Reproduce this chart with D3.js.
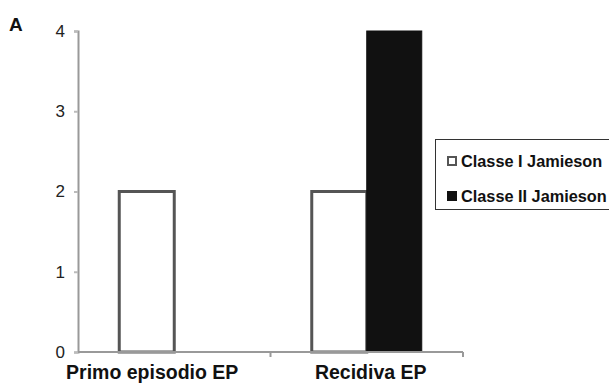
<!DOCTYPE html>
<html><head><meta charset="utf-8">
<script src="https://d3js.org/d3.v7.min.js"></script>
<style>body{margin:0;background:#fff;} svg{display:block;font-family:"Liberation Sans",Arial,sans-serif;}</style>
</head><body>
<svg id="c" width="609" height="383"></svg>
<script>
const categories = ["Primo episodio EP", "Recidiva EP"];
const seriesNames = ["Classe I Jamieson", "Classe II Jamieson"];
const classeI = [2, 2];
const classeII = [0, 4];
const yTicks = [0, 1, 2, 3, 4];

const svg = d3.select("#c");
const m = {l: 78, r: 463, t: 31, b: 352};
const x = d3.scaleBand().domain(categories).range([m.l, m.r]);
const xs = d3.scaleBand().domain(seriesNames).range([0, x.bandwidth()]).paddingInner(0).paddingOuter(0.75);
const y = d3.scaleLinear().domain([0, 4]).range([m.b, m.t]);
const fills = ["#ffffff", "#111111"];
const series = [classeI, classeII];

// bars
series.forEach((vals, si) => {
  svg.append("g").selectAll("rect").data(categories).join("rect")
    .attr("x", c => x(c) + xs(seriesNames[si]))
    .attr("y", (c, i) => y(vals[i]))
    .attr("width", xs.bandwidth())
    .attr("height", (c, i) => y(0) - y(vals[i]))
    .attr("fill", fills[si])
    .attr("stroke", si === 0 ? "#555" : "#111")
    .attr("stroke-width", si === 0 ? 3 : 1)
    .attr("display", (c, i) => vals[i] > 0 ? null : "none");
});

// y axis
const ya = svg.append("g").attr("transform", `translate(${m.l},0)`)
  .call(d3.axisLeft(y).tickValues(yTicks).tickFormat(d3.format("d")).tickSize(4).tickPadding(9));
ya.select(".domain").attr("stroke", "#999").attr("stroke-width", 2);
ya.selectAll(".tick line").attr("stroke", "#bbb").attr("stroke-width", 2);
ya.selectAll("text").attr("font-size", 17).attr("fill", "#222").attr("font-family", "Liberation Sans, Arial, sans-serif");

// x axis
const xa = svg.append("g").attr("transform", `translate(0,${m.b})`);
xa.append("line").attr("x1", m.l).attr("x2", m.r).attr("stroke", "#999").attr("stroke-width", 2);
xa.selectAll("line.t").data(categories).join("line").attr("class", "t")
  .attr("x1", c => x(c) + x.bandwidth()).attr("x2", c => x(c) + x.bandwidth())
  .attr("y1", 0).attr("y2", 5).attr("stroke", "#999").attr("stroke-width", 2);
const labelShift = [-22, 4];
xa.selectAll("text").data(categories).join("text")
  .attr("x", (c, i) => x(c) + x.bandwidth() / 2 + labelShift[i])
  .attr("y", 27).attr("text-anchor", "middle")
  .attr("font-size", 19.5).attr("font-weight", "bold").attr("fill", "#111")
  .text(c => c);

// panel letter
svg.append("text").attr("x", 9).attr("y", 31).attr("font-size", 19).attr("font-weight", "bold").attr("fill", "#111").text("A");

// legend
const lg = svg.append("g");
lg.append("rect").attr("x", 435.5).attr("y", 139.5).attr("width", 200).attr("height", 70)
  .attr("fill", "#fff").attr("stroke", "#333").attr("stroke-width", 1);
seriesNames.forEach((s, i) => {
  const yy = 161 + i * 35;
  lg.append("rect").attr("x", 448).attr("y", yy - 4).attr("width", 8).attr("height", 8)
    .attr("fill", fills[i]).attr("stroke", i === 0 ? "#555" : "#111").attr("stroke-width", 2);
  lg.append("text").attr("x", 461).attr("y", yy + 5.5).attr("font-size", 16.3).attr("font-weight", "bold")
    .attr("fill", "#111").text(s);
});
</script>
</body></html>
